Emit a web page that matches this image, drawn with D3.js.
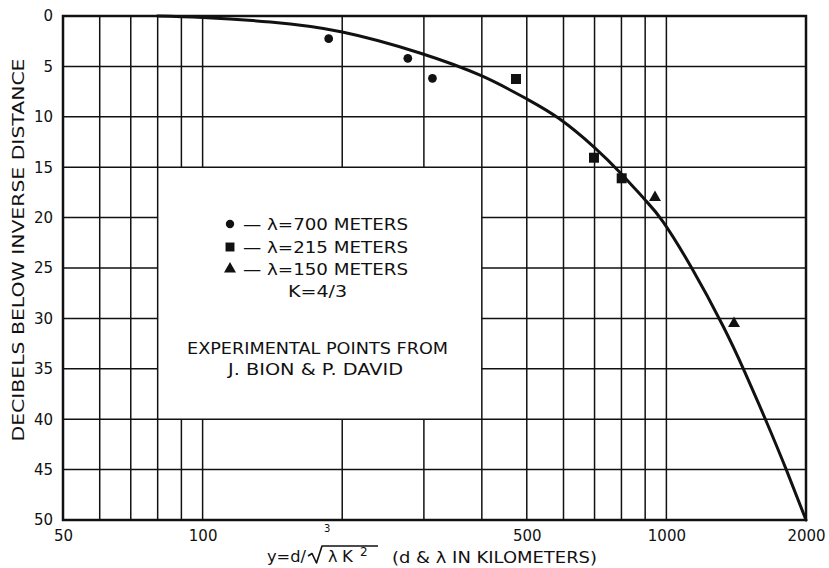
<!DOCTYPE html>
<html>
<head>
<meta charset="utf-8">
<script src="https://cdn.jsdelivr.net/npm/d3@7/dist/d3.min.js"></script>
<style>
  html, body { margin: 0; padding: 0; background: #fff; }
  svg { display: block; }
  text { font-family: "DejaVu Sans", sans-serif; fill: #111; }
</style>
</head>
<body>
<svg id="chart" width="829" height="568"></svg>
<script>
// ---- data ----
const xTickLabels = [50, 100, 500, 1000, 2000];
const xGridValues = [60, 70, 80, 90, 100, 200, 300, 400, 500, 600, 700, 800, 900, 1000];
const yTickValues = [0, 5, 10, 15, 20, 25, 30, 35, 40, 45, 50];

const circle700X = [187, 277, 313];
const circle700Y = [2.25, 4.2, 6.18];
const square215X = [474, 698, 801];
const square215Y = [6.25, 14.06, 16.1];
const triangle150X = [945, 1399];
const triangle150Y = [18, 30.5];

const curveX = [80, 100, 140, 200, 294, 400, 500, 588, 700, 800, 900, 983, 1134, 1323, 1472, 1645, 1817, 2000];
const curveY = [0, 0.15, 0.6, 1.59, 3.67, 5.95, 8.23, 10.2, 13.05, 15.67, 18.25, 20.4, 25.0, 30.7, 35.2, 40.3, 45.1, 50];

const legendLines = ["— λ=700 METERS", "— λ=215 METERS", "— λ=150 METERS"];
const legendNote = "K=4/3";
const sourceLines = ["EXPERIMENTAL POINTS FROM", "J. BION & P. DAVID"];
const yTitle = "DECIBELS BELOW INVERSE DISTANCE";

// ---- scales ----
const svg = d3.select("#chart");
const x = d3.scaleLog().domain([50, 2000]).range([63, 806]);
const y = d3.scaleLinear().domain([0, 50]).range([16, 520]);
const ink = "#111";

// legend box region in data coordinates
const box = { x0: 80, x1: 400, y0: 15, y1: 40 };

const grid = svg.append("g");
xGridValues.forEach(v => {
  const inside = v > box.x0 && v < box.x1;
  const segs = inside ? [[0, box.y0], [box.y1, 50]] : [[0, 50]];
  segs.forEach(s => {
    grid.append("line")
      .attr("x1", x(v)).attr("x2", x(v))
      .attr("y1", y(s[0])).attr("y2", y(s[1]))
      .attr("stroke", ink).attr("stroke-width", 1.5);
  });
});
yTickValues.forEach(v => {
  if (v === 0 || v === 50) return;
  const inside = v > box.y0 && v < box.y1;
  const segs = inside ? [[50, box.x0], [box.x1, 2000]] : [[50, 2000]];
  segs.forEach(s => {
    grid.append("line")
      .attr("x1", x(s[0])).attr("x2", x(s[1]))
      .attr("y1", y(v)).attr("y2", y(v))
      .attr("stroke", ink).attr("stroke-width", 1.5);
  });
});
svg.append("rect")
  .attr("x", x(50)).attr("y", y(0))
  .attr("width", x(2000) - x(50)).attr("height", y(50) - y(0))
  .attr("fill", "none").attr("stroke", ink).attr("stroke-width", 2.5);

// ---- axes labels ----
const yAxis = d3.axisLeft(y).tickValues(yTickValues).tickSize(0).tickPadding(10);
const gy = svg.append("g").attr("transform", `translate(${x(50)},0)`).call(yAxis);
gy.select(".domain").remove();
gy.selectAll("text").attr("font-size", 15).attr("fill", ink).attr("font-family", "DejaVu Sans");

const xAxis = d3.axisBottom(x).tickValues(xTickLabels).tickFormat(d3.format("d")).tickSize(0).tickPadding(10);
const gx = svg.append("g").attr("transform", `translate(0,${y(50)})`).call(xAxis);
gx.select(".domain").remove();
gx.selectAll("text").attr("font-size", 15).attr("fill", ink).attr("font-family", "DejaVu Sans");

// Y title
svg.append("text")
  .attr("transform", "translate(24,250) rotate(-90)")
  .attr("text-anchor", "middle")
  .attr("font-size", 16)
  .attr("textLength", 383).attr("lengthAdjust", "spacingAndGlyphs")
  .text(yTitle);

// X title: y = d / ∛(λK²) (d & λ IN KILOMETERS)
const xt = svg.append("g");
xt.append("text").attr("x", 267).attr("y", 562).attr("font-size", 16)
  .attr("textLength", 39).attr("lengthAdjust", "spacingAndGlyphs").text("y=d/");
xt.append("path")
  .attr("d", "M308,556 L312,553.5 L316.5,563 L322,546 L378,546")
  .attr("fill", "none").attr("stroke", ink).attr("stroke-width", 1.6).attr("stroke-linejoin", "round");
xt.append("text").attr("x", 324).attr("y", 532).attr("font-size", 10).text("3");
xt.append("text").attr("x", 328).attr("y", 562).attr("font-size", 16).text("λ");
xt.append("text").attr("x", 342).attr("y", 562).attr("font-size", 16.5).text("K");
xt.append("text").attr("x", 360).attr("y", 556).attr("font-size", 12).text("2");
xt.append("text").attr("x", 392).attr("y", 563).attr("font-size", 16)
  .attr("textLength", 205).attr("lengthAdjust", "spacingAndGlyphs")
  .text("(d & λ IN KILOMETERS)");

// ---- curve ----
const curvePts = curveX.map((v, i) => [v, curveY[i]]);
svg.append("path")
  .datum(curvePts)
  .attr("fill", "none").attr("stroke", ink).attr("stroke-width", 3)
  .attr("stroke-linecap", "round")
  .attr("d", d3.line().x(d => x(d[0])).y(d => y(d[1])).curve(d3.curveNatural));

// ---- points ----
function drawPoints(xs, ys, type, size) {
  const sym = d3.symbol().type(type).size(size);
  svg.append("g").selectAll("path")
    .data(xs.map((v, i) => [v, ys[i]]))
    .join("path")
    .attr("transform", d => `translate(${x(d[0])},${y(d[1])})`)
    .attr("d", sym)
    .attr("fill", ink);
}
drawPoints(circle700X, circle700Y, d3.symbolCircle, 60);
drawPoints(square215X, square215Y, d3.symbolSquare, 100);
drawPoints(triangle150X, triangle150Y, d3.symbolTriangle, 62);

// ---- legend ----
const lg = svg.append("g");
const legendSyms = [[d3.symbolCircle, 55], [d3.symbolSquare, 80], [d3.symbolTriangle, 62]];
const legendBase = [230, 253, 275];
legendLines.forEach((t, i) => {
  lg.append("path")
    .attr("transform", `translate(230,${legendBase[i] - 6})`)
    .attr("d", d3.symbol().type(legendSyms[i][0]).size(legendSyms[i][1]))
    .attr("fill", ink);
  lg.append("text").attr("x", 243).attr("y", legendBase[i]).attr("font-size", 16)
    .attr("textLength", 165).attr("lengthAdjust", "spacingAndGlyphs").text(t);
});
lg.append("text").attr("x", 317.5).attr("y", 297).attr("font-size", 16)
  .attr("text-anchor", "middle").attr("textLength", 59).attr("lengthAdjust", "spacingAndGlyphs")
  .text(legendNote);
lg.append("text").attr("x", 317.5).attr("y", 353.5).attr("font-size", 16)
  .attr("text-anchor", "middle").attr("textLength", 261).attr("lengthAdjust", "spacingAndGlyphs")
  .text(sourceLines[0]);
lg.append("text").attr("x", 315.5).attr("y", 375).attr("font-size", 16)
  .attr("text-anchor", "middle").attr("textLength", 175).attr("lengthAdjust", "spacingAndGlyphs")
  .text(sourceLines[1]);
</script>
</body>
</html>
